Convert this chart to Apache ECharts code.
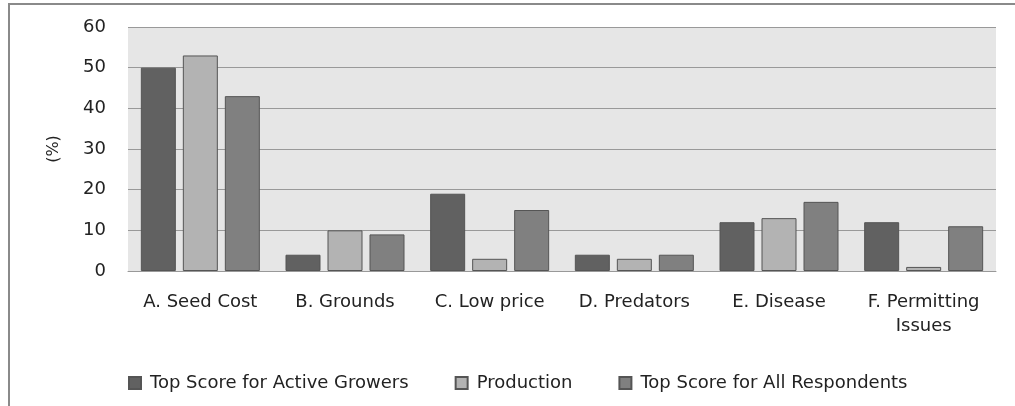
<!DOCTYPE html>
<html>
<head>
<meta charset="utf-8">
<title>Top Score</title>
<script src="https://cdn.jsdelivr.net/npm/echarts@6/dist/echarts.min.js"></script>
<style>
  html, body { margin: 0; padding: 0; background: #fff; }
  #myChart { width: 1015px; height: 406px; }
</style>
</head>
<body>
<div id="myChart"></div>
<script>
// data
var categories = ['A. Seed Cost', 'B. Grounds', 'C. Low price', 'D. Predators', 'E. Disease', 'F. Permitting\nIssues'];
var activeGrowers = [50, 4, 19, 4, 12, 12];
var production = [53, 10, 3, 3, 13, 1];
var allRespondents = [43, 9, 15, 4, 17, 11];
var yTicks = [0, 10, 20, 30, 40, 50, 60];

var font = 'DejaVu Sans';

var myChart = echarts.init(document.getElementById('myChart'));

function bar(name, data, color) {
  return {
    name: name,
    type: 'bar',
    data: data,
    barWidth: 35,
    barGap: '20%',
    itemStyle: { color: color, borderColor: '#555', borderWidth: 1 }
  };
}

myChart.setOption({
  animation: false,
  textStyle: { fontFamily: font },
  // chart frame: only left and top edges show in the picture
  graphic: [{
    type: 'polyline',
    shape: { points: [[9, 406], [9, 4], [1015, 4]] },
    style: { stroke: '#8a8a8a', lineWidth: 2, fill: null }
  }],
  grid: {
    left: 128, right: 19, top: 27, bottom: 135,
    show: true, backgroundColor: '#e6e6e6', borderWidth: 0
  },
  legend: {
    left: 123, top: 369,
    itemWidth: 12, itemHeight: 12, itemGap: 46,
    icon: 'rect',
    textStyle: { fontSize: 18, color: '#222', fontFamily: font, padding: [0, 0, 0, 4] },
    data: ['Top Score for Active Growers', 'Production', 'Top Score for All Respondents']
  },
  xAxis: {
    type: 'category',
    data: categories,
    axisTick: { show: false },
    axisLine: { lineStyle: { color: '#999', width: 1 } },
    axisLabel: { fontSize: 18, color: '#222', margin: 19, lineHeight: 24, interval: 0 }
  },
  yAxis: {
    type: 'value',
    min: yTicks[0],
    max: yTicks[yTicks.length - 1],
    interval: 10,
    name: '(%)',
    nameLocation: 'middle',
    nameGap: 66,
    nameTextStyle: { fontSize: 16, color: '#222' },
    axisLine: { show: false },
    axisTick: { show: false },
    axisLabel: { fontSize: 18, color: '#222', margin: 22 },
    splitLine: { lineStyle: { color: '#999', width: 1 } }
  },
  series: [
    bar('Top Score for Active Growers', activeGrowers, '#616161'),
    bar('Production', production, '#b3b3b3'),
    bar('Top Score for All Respondents', allRespondents, '#808080')
  ]
});
</script>
</body>
</html>
